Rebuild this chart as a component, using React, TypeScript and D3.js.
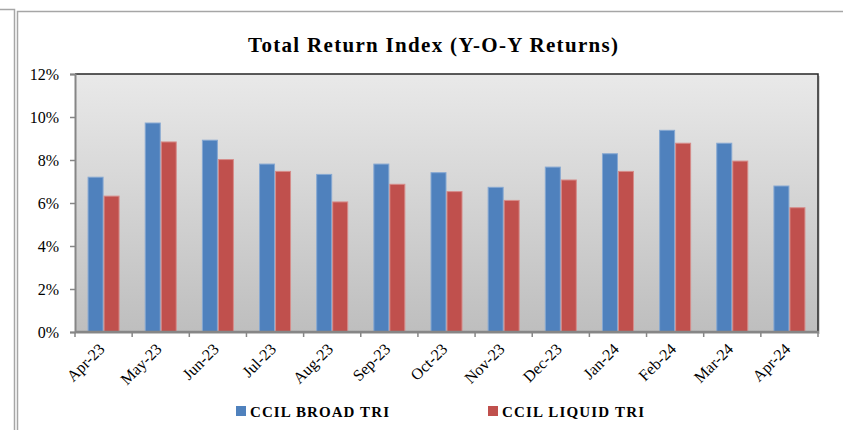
import React, { useRef, useEffect } from "react";
import * as d3 from "d3";

const months = [
  "Apr-23", "May-23", "Jun-23", "Jul-23", "Aug-23", "Sep-23", "Oct-23",
  "Nov-23", "Dec-23", "Jan-24", "Feb-24", "Mar-24", "Apr-24",
];
const broadTri = [7.2, 9.72, 8.92, 7.81, 7.33, 7.81, 7.41, 6.73, 7.67, 8.29, 9.38, 8.78, 6.79];
const liquidTri = [6.32, 8.84, 8.02, 7.47, 6.05, 6.87, 6.53, 6.12, 7.07, 7.47, 8.78, 7.95, 5.78];
const seriesNames = ["CCIL BROAD TRI", "CCIL LIQUID TRI"];
const yTicks = [0, 2, 4, 6, 8, 10, 12];

const colors = ["#4f81bd", "#c0504d"];
const strokes = ["#86a8d2", "#d68c8a"];
const serif = "'Liberation Serif', 'Times New Roman', serif";

const App = () => {
  const svgRef = useRef(null);

  useEffect(() => {
    const svg = d3.select(svgRef.current);
    svg.selectAll("*").remove();

    const W = 843;
    const left = 75, right = 818, top = 74, bottom = 332;

    // outer frame lines
    svg.append("path")
      .attr("d", "M0,9.5H14.5V430")
      .attr("fill", "none").attr("stroke", "#a6a6a6").attr("stroke-width", 1.5);
    svg.append("path")
      .attr("d", `M17.5,430V11.5H${W}`)
      .attr("fill", "none").attr("stroke", "#a6a6a6").attr("stroke-width", 1.5);

    // title
    svg.append("text")
      .attr("x", 248).attr("y", 52)
      .attr("textLength", 370).attr("lengthAdjust", "spacing")
      .style("font-family", serif).style("font-weight", "bold").style("font-size", "21px")
      .text("Total Return Index (Y-O-Y Returns)");

    // gradient
    const defs = svg.append("defs");
    const grad = defs.append("linearGradient").attr("id", "plotbg")
      .attr("x1", 0).attr("y1", 0).attr("x2", 0).attr("y2", 1);
    grad.append("stop").attr("offset", "0%").attr("stop-color", "#e9e9e9");
    grad.append("stop").attr("offset", "100%").attr("stop-color", "#bebebe");

    // scales
    const x = d3.scaleBand().domain(months).range([left, right]).paddingInner(0.44).paddingOuter(0.22);
    const xs = d3.scaleBand().domain(seriesNames).range([0, x.bandwidth()]);
    const y = d3.scaleLinear().domain([0, 12]).range([bottom, top]);

    // plot shadow + background
    svg.append("rect")
      .attr("x", left + 2).attr("y", top + 2).attr("width", right - left).attr("height", bottom - top)
      .attr("fill", "#d9d9d9");
    svg.append("rect")
      .attr("x", left).attr("y", top).attr("width", right - left).attr("height", bottom - top)
      .attr("fill", "url(#plotbg)");

    // bars
    const data = months.map((m, i) => ({ month: m, values: [broadTri[i], liquidTri[i]] }));
    const groups = svg.append("g").selectAll("g").data(data).enter().append("g")
      .attr("transform", (d) => `translate(${x(d.month)},0)`);
    groups.selectAll("rect")
      .data((d) => d.values.map((v, j) => ({ v, j })))
      .enter().append("rect")
      .attr("x", (d) => xs(seriesNames[d.j]) + 0.5)
      .attr("y", (d) => y(d.v))
      .attr("width", xs.bandwidth() - 1)
      .attr("height", (d) => bottom - y(d.v))
      .attr("fill", (d) => colors[d.j])
      .attr("stroke", (d) => strokes[d.j])
      .attr("stroke-width", 1);

    // plot border: top & right dark
    svg.append("path")
      .attr("d", `M${left},${top}H${right}V${bottom}`)
      .attr("fill", "none").attr("stroke", "#262626").attr("stroke-width", 1.5);

    // y axis
    const yAxis = svg.append("g").attr("transform", `translate(${left},0)`)
      .call(d3.axisLeft(y).tickValues(yTicks).tickSize(5).tickPadding(11).tickFormat((d) => d + "%"));
    yAxis.select(".domain").attr("stroke", "#868686").attr("stroke-width", 2);
    yAxis.selectAll(".tick line").attr("stroke", "#868686").attr("stroke-width", 1.5);
    yAxis.selectAll(".tick text")
      .style("font-family", serif).style("font-size", "16px").attr("fill", "#000");

    // x axis
    const xAxis = svg.append("g").attr("transform", `translate(0,${bottom})`);
    xAxis.append("line")
      .attr("x1", left).attr("x2", right + 1).attr("y1", 0).attr("y2", 0)
      .attr("stroke", "#868686").attr("stroke-width", 2.5);
    const bounds = d3.range(months.length + 1).map((i) => left + (i * (right - left)) / months.length);
    xAxis.selectAll(".xt").data(bounds).enter().append("line")
      .attr("x1", (d) => d).attr("x2", (d) => d).attr("y1", 0).attr("y2", 5)
      .attr("stroke", "#868686").attr("stroke-width", 1.5);
    xAxis.selectAll(".xl").data(months).enter().append("text")
      .attr("transform", (d) => `translate(${x(d) + x.bandwidth() / 2 + 2},${18}) rotate(-45)`)
      .attr("text-anchor", "end")
      .style("font-family", serif).style("font-size", "16px")
      .text((d) => d);

    // legend
    const legendX = [236, 488];
    const legendW = [139, 142];
    seriesNames.forEach((name, i) => {
      svg.append("rect")
        .attr("x", legendX[i]).attr("y", 406).attr("width", 10).attr("height", 10)
        .attr("fill", colors[i]);
      svg.append("text")
        .attr("x", legendX[i] + 14).attr("y", 417)
        .attr("textLength", legendW[i]).attr("lengthAdjust", "spacing")
        .style("font-family", serif).style("font-weight", "bold").style("font-size", "15px")
        .text(name);
    });
  }, []);

  return (
    <svg
      ref={svgRef}
      width={843}
      height={430}
      style={{ position: "absolute", left: 0, top: 0, background: "#fff" }}
    />
  );
};

export default App;
